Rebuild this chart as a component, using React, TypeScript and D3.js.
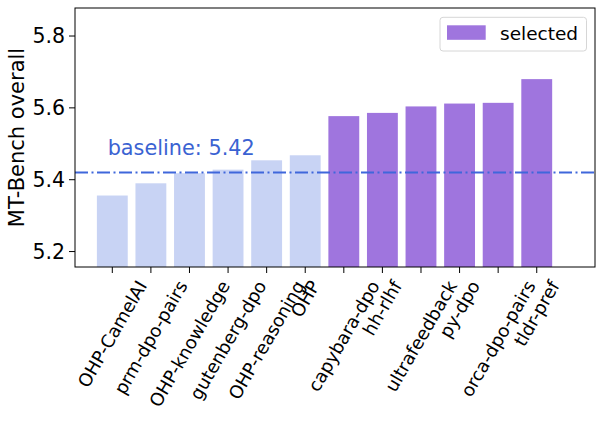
import { useEffect, useRef } from 'react'
import * as d3 from 'd3'

const categories = [
  'OHP-CamelAI',
  'prm-dpo-pairs',
  'OHP-knowledge',
  'gutenberg-dpo',
  'OHP-reasoning',
  'OHP',
  'capybara-dpo',
  'hh-rlhf',
  'ultrafeedback',
  'py-dpo',
  'orca-dpo-pairs',
  'tldr-pref',
]
const scores = [5.356, 5.39, 5.418, 5.428, 5.454, 5.468, 5.577, 5.586, 5.604, 5.612, 5.614, 5.68]
const selected = [false, false, false, false, false, false, true, true, true, true, true, true]
const yTicks = [5.2, 5.4, 5.6, 5.8]
const baseline = 5.42

const W = 604
const H = 421
const FONT = "'DejaVu Sans', sans-serif"

export default function App() {
  const svgRef = useRef<SVGSVGElement>(null)

  useEffect(() => {
    if (!svgRef.current) return
    const svg = d3.select(svgRef.current)
    svg.selectAll('*').remove()

    const left = 75
    const right = 595
    const top = 8
    const bottom = 267

    const x = d3.scaleLinear().domain([-0.967, 12.51]).range([left, right])
    const y = d3.scaleLinear().domain([5.157, 5.878]).range([bottom, top])
    const bw = x(0.8) - x(0)

    // Bars
    svg
      .append('g')
      .selectAll('rect')
      .data(scores)
      .join('rect')
      .attr('x', (_, i) => x(i) - bw / 2)
      .attr('y', (d) => y(d))
      .attr('width', bw)
      .attr('height', (d) => bottom - y(d))
      .attr('fill', (_, i) => (selected[i] ? '#9f75de' : '#c8d3f4'))

    // Baseline
    svg
      .append('line')
      .attr('x1', left)
      .attr('x2', right)
      .attr('y1', y(baseline))
      .attr('y2', y(baseline))
      .attr('stroke', '#3f67db')
      .attr('stroke-width', 1.8)
      .attr('stroke-dasharray', '13 3.5 2 3.5')

    svg
      .append('text')
      .attr('x', x(-0.12))
      .attr('y', y(5.47))
      .attr('fill', '#3a62d2')
      .style('font-family', FONT)
      .style('font-size', '20.8px')
      .text(`baseline: ${baseline.toFixed(2)}`)

    // Frame
    svg
      .append('rect')
      .attr('x', left)
      .attr('y', top)
      .attr('width', right - left)
      .attr('height', bottom - top)
      .attr('fill', 'none')
      .attr('stroke', '#000')
      .attr('stroke-width', 1)

    // Y axis
    const yg = svg.append('g')
    yTicks.forEach((t) => {
      yg.append('line')
        .attr('x1', left - 6)
        .attr('x2', left)
        .attr('y1', y(t))
        .attr('y2', y(t))
        .attr('stroke', '#000')
      yg.append('text')
        .attr('x', left - 10)
        .attr('y', y(t))
        .attr('dy', '0.36em')
        .attr('text-anchor', 'end')
        .style('font-family', FONT)
        .style('font-size', '20.5px')
        .attr('fill', '#000')
        .text(t.toFixed(1))
    })

    svg
      .append('text')
      .attr('transform', `translate(17,${(top + bottom) / 2}) rotate(-90)`)
      .attr('text-anchor', 'middle')
      .attr('dy', '0.35em')
      .style('font-family', FONT)
      .style('font-size', '21px')
      .text('MT-Bench overall')

    // X axis
    const xg = svg.append('g')
    const fs = 18
    const rad = Math.PI / 3
    categories.forEach((c, i) => {
      xg.append('line')
        .attr('x1', x(i))
        .attr('x2', x(i))
        .attr('y1', bottom)
        .attr('y2', bottom + 6)
        .attr('stroke', '#000')
      const t = xg
        .append('text')
        .attr('text-anchor', 'middle')
        .attr('dy', '0.35em')
        .style('font-family', FONT)
        .style('font-size', `${fs}px`)
        .attr('fill', '#000')
        .text(c)
      const L = (t.node() as SVGTextElement).getComputedTextLength()
      const h = fs * 1.17
      const cy = bottom + 10 + (L * Math.sin(rad) + h * Math.cos(rad)) / 2
      t.attr('transform', `translate(${x(i)},${cy}) rotate(-60)`)
    })

    // Legend
    const lg = svg.append('g')
    lg.append('rect')
      .attr('x', 440)
      .attr('y', 17.3)
      .attr('width', 146.5)
      .attr('height', 33.7)
      .attr('rx', 3)
      .attr('fill', '#fff')
      .attr('fill-opacity', 0.8)
      .attr('stroke', '#d6d6d6')
    lg.append('rect')
      .attr('x', 447)
      .attr('y', 25.3)
      .attr('width', 38.7)
      .attr('height', 14.5)
      .attr('fill', '#9f75de')
    lg.append('text')
      .attr('x', 500)
      .attr('y', 40)
      .style('font-family', FONT)
      .style('font-size', '18.5px')
      .attr('fill', '#000')
      .text('selected')
  }, [])

  return (
    <div style={{ position: 'absolute', left: 0, top: 0 }}>
      <svg ref={svgRef} width={W} height={H} style={{ display: 'block', background: '#fff' }} />
    </div>
  )
}
